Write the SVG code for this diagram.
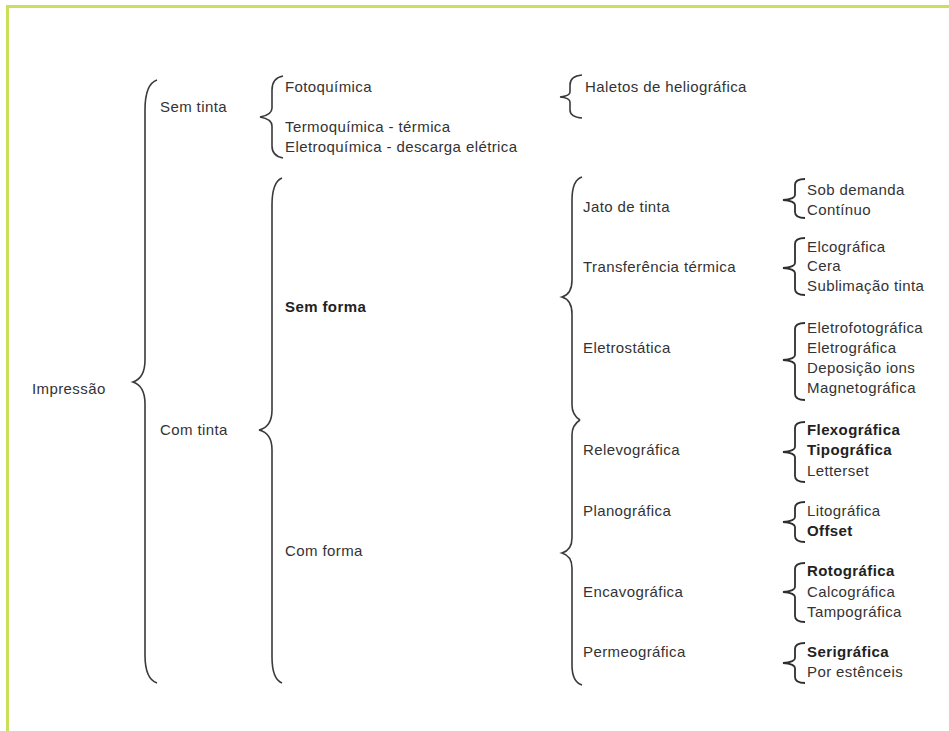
<svg xmlns="http://www.w3.org/2000/svg" width="949" height="731" viewBox="0 0 949 731">
<style>
text{font-family:"Liberation Sans",Arial,sans-serif;font-size:15px;letter-spacing:0.4px;fill:#333}
.b{font-weight:bold;fill:#222}
.br{fill:none;stroke:#3a3a3a;stroke-width:1.6;stroke-linejoin:miter}
.sb{fill:none;stroke:#2e2e2e;stroke-width:1.8}
</style>
<rect width="949" height="731" fill="#fff"/>
<rect x="7.5" y="6.5" width="960" height="760" fill="none" stroke="#c9e05a" stroke-width="3"/>
<g id="connectors">
<path class="br" d="M157,80 Q145,84 145,110 L145,360 Q145,378 133,382 Q145,386 145,404 L145,655 Q145,679 157,683"/>
<path class="br" d="M283,76 Q272,78 272,90 L272,108 Q272,115 260,117 Q272,119 272,126 L272,146 Q272,156 283,158"/>
<path class="br" d="M282,178 Q272,182 272,205 L272,410 Q272,427 259,430 Q272,433 272,450 L272,657 Q272,679 282,683"/>
<path class="br" d="M582,75 Q570,76 570,85 L570,92 Q570,96 560,97 Q570,98 570,102 L570,110 Q570,117 582,118"/>
<path class="br" d="M582,177 Q572,180 572,200 L572,280 Q572,294 562,297 Q572,300 572,314 L572,405 Q572,415 580,420"/>
<path class="br" d="M580,420 Q572,425 572,435 L572,538 Q572,550 562,553 Q572,556 572,568 L572,665 Q572,682 582,685"/>
<path class="sb" d="M805,179 Q795,179 795,185 L795,195 Q795,199 783,200 Q795,201 795,205 L795,212 Q795,218 805,218"/>
<path class="sb" d="M805,238 Q795,238 795,244 L795,263 Q795,267 783,268 Q795,269 795,273 L795,289 Q795,295 805,295"/>
<path class="sb" d="M805,323 Q795,323 795,329 L795,355 Q795,359 783,360 Q795,361 795,365 L795,394 Q795,400 805,400"/>
<path class="sb" d="M805,422 Q795,422 795,428 L795,447 Q795,451 783,452 Q795,453 795,457 L795,476 Q795,482 805,482"/>
<path class="sb" d="M805,502 Q795,502 795,508 L795,517 Q795,521 783,522 Q795,523 795,527 L795,536 Q795,542 805,542"/>
<path class="sb" d="M805,563 Q795,563 795,569 L795,587 Q795,591 783,592 Q795,593 795,597 L795,616 Q795,622 805,622"/>
<path class="sb" d="M805,643 Q795,643 795,649 L795,658 Q795,662 783,663 Q795,664 795,668 L795,677 Q795,683 805,683"/>
</g>
<g id="n-impressao"><text x="32" y="394">Impressão</text></g>
<g id="n-sem-tinta"><text x="160" y="112">Sem tinta</text></g>
<g id="n-com-tinta"><text x="160" y="435">Com tinta</text></g>
<g id="n-fotoquimica"><text x="285" y="92">Fotoquímica</text></g>
<g id="n-termoquimica"><text x="285" y="132">Termoquímica - térmica</text></g>
<g id="n-eletroquimica"><text x="285" y="152">Eletroquímica - descarga elétrica</text></g>
<g id="n-haletos"><text x="585" y="92">Haletos de heliográfica</text></g>
<g id="n-sem-forma"><text class="b" x="285" y="312">Sem forma</text></g>
<g id="n-com-forma"><text x="285" y="556">Com forma</text></g>
<g id="n-jato"><text x="583" y="212">Jato de tinta</text></g>
<g id="n-transferencia"><text x="583" y="272">Transferência térmica</text></g>
<g id="n-eletrostatica"><text x="583" y="353">Eletrostática</text></g>
<g id="n-relevografica"><text x="583" y="455">Relevográfica</text></g>
<g id="n-planografica"><text x="583" y="516">Planográfica</text></g>
<g id="n-encavografica"><text x="583" y="597">Encavográfica</text></g>
<g id="n-permeografica"><text x="583" y="657">Permeográfica</text></g>
<g id="n-sob-demanda"><text x="807" y="195">Sob demanda</text></g>
<g id="n-continuo"><text x="807" y="215">Contínuo</text></g>
<g id="n-elcografica"><text x="807" y="252">Elcográfica</text></g>
<g id="n-cera"><text x="807" y="271">Cera</text></g>
<g id="n-sublimacao"><text x="807" y="291">Sublimação tinta</text></g>
<g id="n-eletrofotografica"><text x="807" y="333">Eletrofotográfica</text></g>
<g id="n-eletrografica"><text x="807" y="353">Eletrográfica</text></g>
<g id="n-deposicao"><text x="807" y="373">Deposição ions</text></g>
<g id="n-magnetografica"><text x="807" y="393">Magnetográfica</text></g>
<g id="n-flexografica"><text class="b" x="807" y="435">Flexográfica</text></g>
<g id="n-tipografica"><text class="b" x="807" y="455">Tipográfica</text></g>
<g id="n-letterset"><text x="807" y="476">Letterset</text></g>
<g id="n-litografica"><text x="807" y="516">Litográfica</text></g>
<g id="n-offset"><text class="b" x="807" y="536">Offset</text></g>
<g id="n-rotografica"><text class="b" x="807" y="576">Rotográfica</text></g>
<g id="n-calcografica"><text x="807" y="597">Calcográfica</text></g>
<g id="n-tampografica"><text x="807" y="617">Tampográfica</text></g>
<g id="n-serigrafica"><text class="b" x="807" y="657">Serigráfica</text></g>
<g id="n-por-estenceis"><text x="807" y="677">Por estênceis</text></g>
</svg>
